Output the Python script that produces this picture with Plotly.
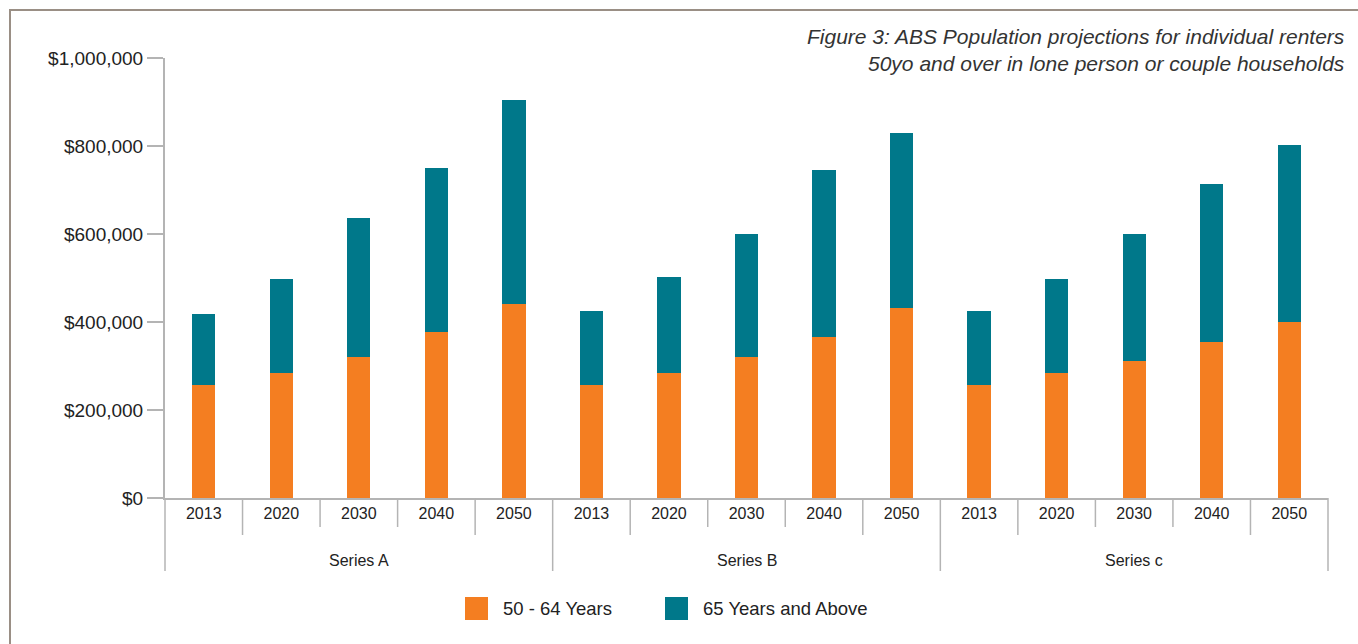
import plotly.graph_objects as go

# Data
groups = ["Series A", "Series B", "Series c"]
years = ["2013", "2020", "2030", "2040", "2050"]
age_50_64 = [257000, 284000, 321000, 378000, 441000,
             257000, 284000, 320000, 366000, 432000,
             257000, 284000, 311000, 355000, 400000]
totals = [418000, 498000, 636000, 750000, 905000,
          425000, 502000, 600000, 745000, 830000,
          425000, 498000, 600000, 714000, 802000]
age_65_plus = [t - a for t, a in zip(totals, age_50_64)]
series_names = ["50 - 64 Years", "65 Years and Above"]
series_colors = ["#f47e21", "#00788a"]
y_ticks = [0, 200000, 400000, 600000, 800000, 1000000]
y_tick_text = ["$0", "$200,000", "$400,000", "$600,000", "$800,000", "$1,000,000"]

FONT = "Liberation Sans, Arial, Helvetica, sans-serif"
TEXT = "#222222"
AXIS_GREY = "#b4b4b4"

W, H = 1358, 644
L, R, T, B = 165, 30, 58, 146
plot_w = W - L - R
plot_h = H - T - B


def px_x(px):
    return (px - L) / plot_w


def px_y(py):
    return (H - B - py) / plot_h


n = len(groups) * len(years)
xs = list(range(n))
tick_text = years * len(groups)

fig = go.Figure()
for vals, name, col in zip([age_50_64, age_65_plus], series_names, series_colors):
    fig.add_trace(go.Bar(
        x=xs, y=vals, name=name, width=0.3,
        marker=dict(color=col, line=dict(width=0)),
        showlegend=False
    ))

shapes = []
# divider lines under the category axis
for k in range(n + 1):
    pos = k % len(years)
    if pos == 0:
        bottom = 571
    elif pos in (1, len(years) - 1):
        bottom = 535
    else:
        bottom = 527
    shapes.append(dict(type="line", xref="paper", yref="paper",
                       x0=k / n, x1=k / n, y0=0, y1=px_y(bottom),
                       line=dict(color=AXIS_GREY, width=1.5)))

# outer frame
shapes.append(dict(type="rect", xref="paper", yref="paper",
                   x0=px_x(10), x1=px_x(W + 20), y0=px_y(10), y1=px_y(H + 20),
                   line=dict(color="#9a8f85", width=2), fillcolor="rgba(0,0,0,0)",
                   layer="below"))

annotations = []
for gi, g in enumerate(groups):
    centre = (gi * len(years) + (len(years) * (gi + 1) - 1)) / 2
    annotations.append(dict(x=centre, xref="x", y=px_y(560), yref="paper",
                            text=g, showarrow=False, yanchor="middle",
                            font=dict(size=16, color=TEXT, family=FONT)))

annotations.append(dict(
    x=px_x(1347), y=px_y(50), xref="paper", yref="paper",
    xanchor="right", yanchor="middle", align="right", showarrow=False,
    text="<i>Figure 3: ABS Population projections for individual renters<br>"
         "50yo and over in lone person or couple households</i>",
    font=dict(size=21, color="#333333", family=FONT)))

# legend drawn by hand so the swatches match the reference size
legend_left = [465, 665]
for name, col, lx in zip(series_names, series_colors, legend_left):
    shapes.append(dict(type="rect", xref="paper", yref="paper",
                       x0=px_x(lx), x1=px_x(lx + 23), y0=px_y(620), y1=px_y(597),
                       fillcolor=col, line=dict(width=0)))
    annotations.append(dict(x=px_x(lx + 36), y=px_y(608), xref="paper", yref="paper",
                            xanchor="left", yanchor="middle", showarrow=False,
                            text=name, font=dict(size=18.5, color=TEXT, family=FONT)))

fig.update_layout(
    width=W, height=H,
    margin=dict(l=L, r=R, t=T, b=B),
    barmode="stack",
    plot_bgcolor="white", paper_bgcolor="white",
    font=dict(family=FONT, color=TEXT),
    showlegend=False,
    shapes=shapes,
    annotations=annotations,
    xaxis=dict(
        range=[-0.5, n - 0.5], tickmode="array", tickvals=xs, ticktext=tick_text,
        showgrid=False, zeroline=False, showline=True, linecolor=AXIS_GREY, linewidth=2,
        ticks="", tickfont=dict(size=16, color=TEXT, family=FONT),
        fixedrange=True
    ),
    yaxis=dict(
        range=[0, 1000000], tickmode="array",
        tickvals=y_ticks, ticktext=y_tick_text,
        showgrid=False, zeroline=False, showline=True, linecolor=AXIS_GREY, linewidth=2,
        ticks="outside", ticklen=16, tickwidth=2, tickcolor=AXIS_GREY,
        tickfont=dict(size=19, color=TEXT, family=FONT),
        fixedrange=True
    ),
)

fig.write_html("out.html", config={"displayModeBar": False},
               post_script="document.body.style.margin='0';")
